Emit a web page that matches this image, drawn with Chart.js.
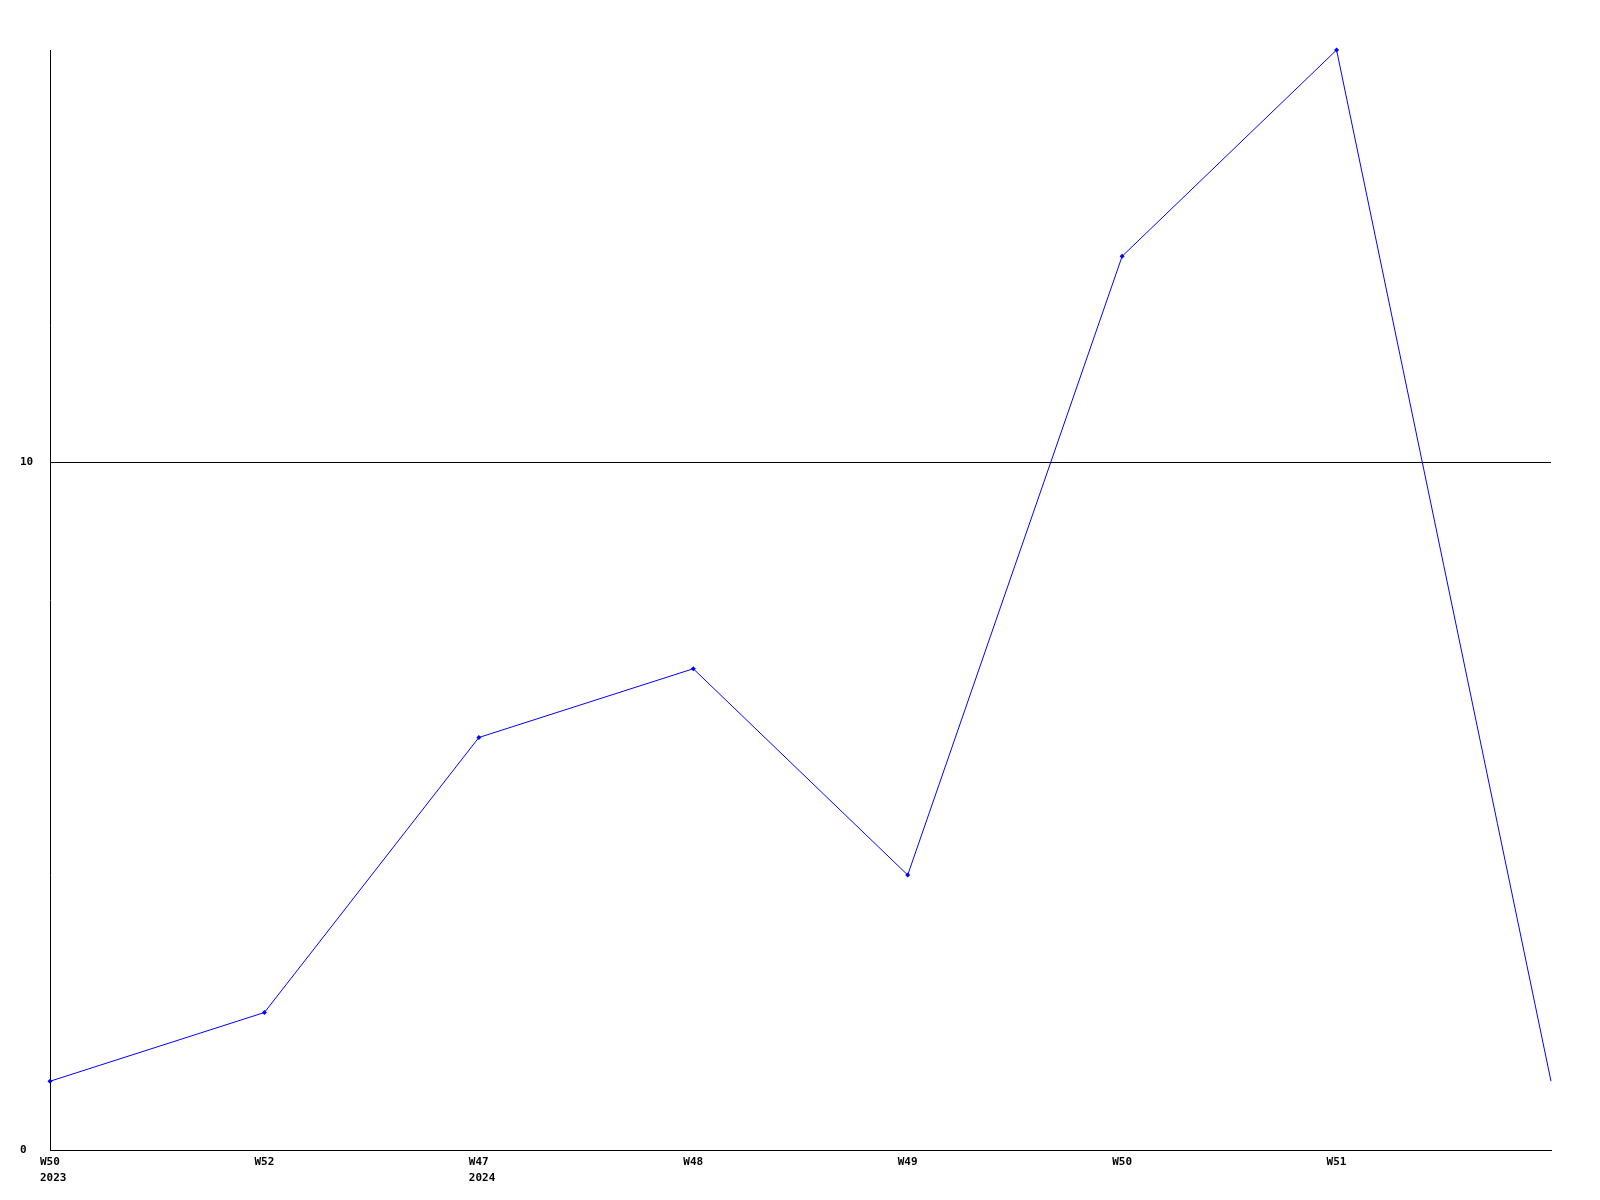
<!DOCTYPE html>
<html>
<head>
<meta charset="utf-8">
<title>Weekly chart</title>
<script src="https://cdn.jsdelivr.net/npm/chart.js@4/dist/chart.umd.min.js"></script>
<style>
  html, body { margin: 0; padding: 0; background: #fff; }
  canvas { display: block; }
</style>
</head>
<body>
<canvas id="weekChart" width="1600" height="1200"></canvas>
<script>
// week labels along the x axis (last point has no label in the original)
const weeks = ['W50', 'W52', 'W47', 'W48', 'W49', 'W50', 'W51', 'W52'];
const years = ['2023', '', '2024', '', '', '', '', ''];
const values = [1, 2, 6, 7, 4, 13, 16, 1];
const yTicks = [0, 10];

const labels = weeks.map((w, i) => years[i] ? [w, years[i]] : w);
// the last (unfinished) week is drawn without a marker
const markerSizes = values.map((v, i) => i === values.length - 1 ? 0 : 2.5);

const tickFont = { family: '"DejaVu Sans Mono", monospace', size: 11, weight: 'bold', lineHeight: 1.45 };

const ctx = document.getElementById('weekChart').getContext('2d');
const chart = new Chart(ctx, {
    type: 'line',
    data: {
        labels: labels,
        datasets: [{
            data: values,
            borderColor: '#0000ff',
            backgroundColor: '#0000ff',
            borderWidth: 1,
            tension: 0,
            fill: false,
            clip: false,
            pointStyle: 'rectRot',
            pointRadius: markerSizes,
            pointBorderWidth: 0,
            pointHoverRadius: markerSizes
        }]
    },
    options: {
        responsive: false,
        animation: false,
        devicePixelRatio: 1,
        layout: { padding: { top: 50, right: 49, left: 20, bottom: 0 } },
        plugins: {
            legend: { display: false },
            tooltip: { enabled: false }
        },
        scales: {
            x: {
                offset: false,
                grid: { display: false, drawTicks: false },
                border: { display: true, color: '#000', width: 1 },
                ticks: {
                    color: '#000',
                    font: tickFont,
                    align: 'start',
                    labelOffset: -10,
                    padding: 4,
                    maxRotation: 0,
                    autoSkip: false,
                    callback: function (val, i) {
                        return i === weeks.length - 1 ? '' : this.getLabelForValue(val);
                    }
                },
                afterFit: (scale) => { scale.height = 50; }
            },
            y: {
                min: 0,
                max: 16,
                grid: { color: '#000', lineWidth: 1, drawTicks: false },
                border: { display: true, color: '#000', width: 1 },
                afterBuildTicks: (scale) => {
                    scale.ticks = yTicks.map(v => ({ value: v }));
                },
                ticks: {
                    color: '#000',
                    font: tickFont,
                    crossAlign: 'far',
                    padding: 0
                },
                afterFit: (scale) => { scale.width = 30; }
            }
        }
    }
});
</script>
</body>
</html>
